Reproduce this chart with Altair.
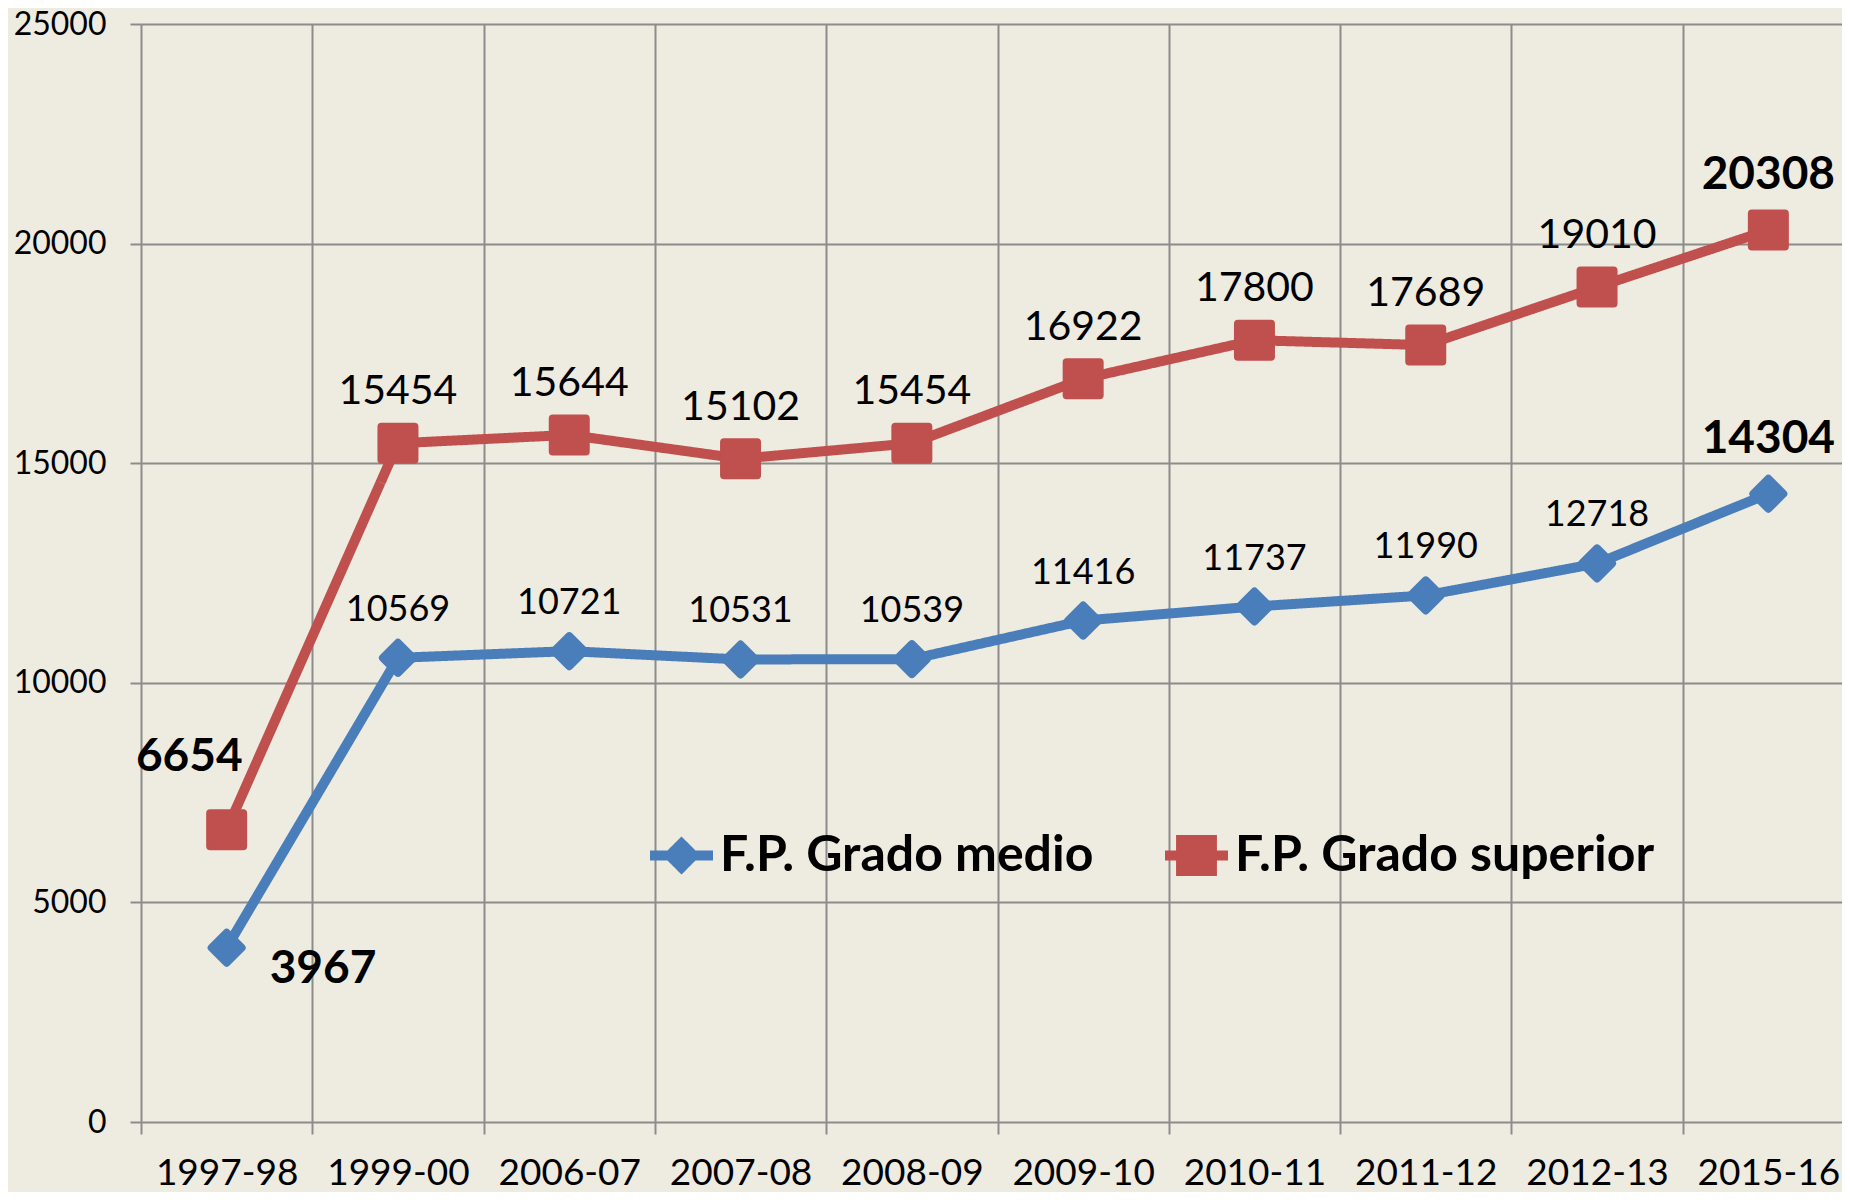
import altair as alt
import pandas as pd

years = ["1997-98", "1999-00", "2006-07", "2007-08", "2008-09",
         "2009-10", "2010-11", "2011-12", "2012-13", "2015-16"]
medio = [3967, 10569, 10721, 10531, 10539, 11416, 11737, 11990, 12718, 14304]
superior = [6654, 15454, 15644, 15102, 15454, 16922, 17800, 17689, 19010, 20308]
series = ["F.P. Grado medio", "F.P. Grado superior"]
colors = ["#4A7EBB", "#C0504D"]
y_ticks = [0, 5000, 10000, 15000, 20000, 25000]

rows = []
for name, vals in zip(series, [medio, superior]):
    for i, (yr, v) in enumerate(zip(years, vals)):
        rows.append({"year": yr, "value": v, "serie": name, "idx": i})
df = pd.DataFrame(rows)

FONT = "Lato"
GRID = "#8C8C8C"

x_enc = alt.X("year:N", sort=years,
              scale=alt.Scale(type="band", paddingInner=0, paddingOuter=0),
              axis=alt.Axis(title=None, tickBand="extent", grid=True, domain=False,
                            labelAngle=0, tickSize=12, labelPadding=21,
                            labelFontSize=37, labelFont=FONT, labelColor="black",
                            gridColor=GRID, gridWidth=2, tickColor=GRID, tickWidth=2))
y_enc = alt.Y("value:Q", scale=alt.Scale(domain=[0, 25000], nice=False, zero=True),
              axis=alt.Axis(title=None, values=y_ticks, format="d", grid=True, domain=False,
                            tickSize=11, labelPadding=24, labelFontSize=32,
                            labelFont=FONT, labelColor="black",
                            gridColor=GRID, gridWidth=2, tickColor=GRID, tickWidth=2))

diamond_path = "M-1,0L1,0M0,-0.38L0.38,0L0,0.38L-0.38,0Z"
square_path = ("M-1,0L1,0M-0.49,-0.49L0.49,-0.49L0.49,0.49L-0.49,0.49Z"
               "M-0.2,-0.2L0.2,-0.2L0.2,0.2L-0.2,0.2Z")


def make_legend(path, color, lx):
    return alt.Legend(
        title=None, orient="none", legendX=lx, legendY=795, direction="horizontal",
        padding=0, symbolSize=3969, symbolStrokeWidth=10, symbolOpacity=1,
        symbolType=path, symbolFillColor=color, symbolStrokeColor=color,
        labelOffset=2, labelFont=FONT, labelFontWeight="bold", labelFontSize=50,
        labelColor="black", labelLimit=1000, labelBaseline="middle",
    )


base = alt.Chart(df)


def line_layer(k, path, lx):
    return base.transform_filter(alt.datum.serie == series[k]).mark_line(
        strokeWidth=10, strokeJoin="round", color=colors[k]).encode(
        x=x_enc, y=y_enc,
        strokeDash=alt.StrokeDash("serie:N",
                                  scale=alt.Scale(domain=[series[k]], range=[[1, 0]]),
                                  legend=make_legend(path, colors[k], lx)),
    )


line_blue = line_layer(0, diamond_path, 504)
line_red = line_layer(1, square_path, 1019)

pts_blue = base.transform_filter(alt.datum.serie == series[0]).mark_point(
    shape="diamond", filled=True, opacity=1, size=900, fill=colors[0], stroke=colors[0],
    strokeWidth=8, strokeJoin="round").encode(x=x_enc, y=y_enc)
pts_red = base.transform_filter(alt.datum.serie == series[1]).mark_point(
    shape="square", filled=True, opacity=1, size=1089, fill=colors[1], stroke=colors[1],
    strokeWidth=8, strokeJoin="round").encode(x=x_enc, y=y_enc)


def labels(serie, cond, **kw):
    return base.transform_filter(
        (alt.datum.serie == serie) & cond
    ).mark_text(font=FONT, color="black", **kw).encode(
        x=x_enc, y=y_enc, text=alt.Text("value:Q", format="d"))


mid = (alt.datum.idx > 0) & (alt.datum.idx < 9)
red_mid = labels(series[1], mid, fontSize=41, dy=-39, baseline="alphabetic", align="center")
blue_mid = labels(series[0], mid, fontSize=36, dy=-37, baseline="alphabetic", align="center")
red_last = labels(series[1], alt.datum.idx == 9, fontSize=46, fontWeight="bold", dy=-41,
                  baseline="alphabetic", align="center")
blue_last = labels(series[0], alt.datum.idx == 9, fontSize=46, fontWeight="bold", dy=-41,
                   baseline="alphabetic", align="center")
red_first = labels(series[1], alt.datum.idx == 0, fontSize=46, fontWeight="bold", dy=-59, dx=16,
                   baseline="alphabetic", align="right")
blue_first = labels(series[0], alt.datum.idx == 0, fontSize=46, fontWeight="bold", dy=35, dx=43,
                    baseline="alphabetic", align="left")

chart = alt.layer(
    line_blue, line_red, pts_blue, pts_red,
    red_mid, blue_mid, red_last, blue_last, red_first, blue_first
).resolve_scale(strokeDash="independent").resolve_legend(strokeDash="independent").properties(
    width=1713, height=1098,
    padding={"left": 133, "top": 16, "right": -12, "bottom": 70},
    autosize=alt.AutoSizeParams(type="none"),
).configure(
    background="#EEEBE0", font=FONT,
).configure_view(stroke=None)

chart.save("out.html", embed_options={"renderer": "svg", "actions": False})
